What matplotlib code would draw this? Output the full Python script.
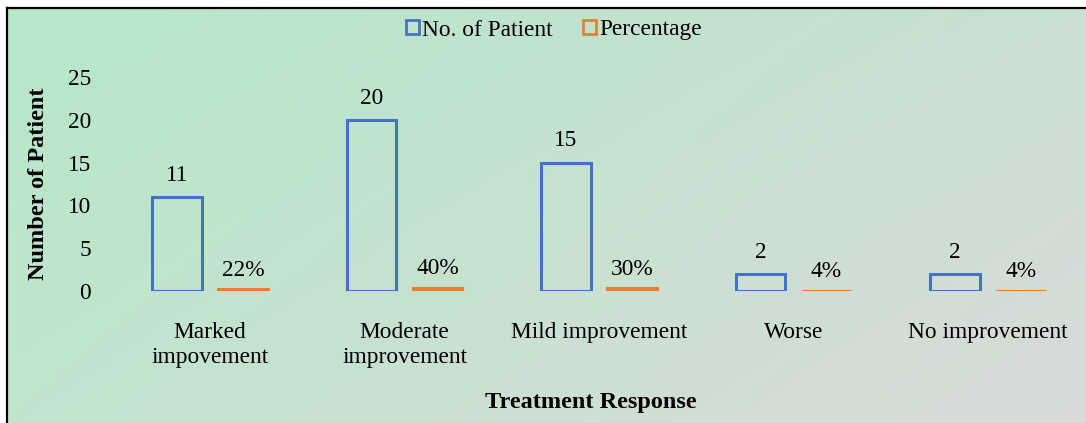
import numpy as np
import matplotlib
matplotlib.use("Agg")
import matplotlib.pyplot as plt
from matplotlib.patches import Patch
from matplotlib.lines import Line2D

# data
categories = ["Marked\nimpovement", "Moderate\nimprovement", "Mild improvement", "Worse", "No improvement"]
patients = [11, 20, 15, 2, 2]
percentage = [0.22, 0.40, 0.30, 0.04, 0.04]

blue = "#4472C4"
orange = "#ED7D31"
fs = 16.8

plt.rcParams["font.family"] = ["Liberation Serif", "DejaVu Serif"]

fig = plt.figure(figsize=(10.86, 4.23), dpi=100)
fig.patch.set_facecolor("white")

# background gradient (green top-left -> grey bottom-right)
bg = fig.add_axes([8 / 1086, 0, 1 - 8 / 1086, 1 - 9 / 423], zorder=-5)
tl = np.array([181, 232, 200]) / 255
tr = np.array([202, 223, 210]) / 255
bl = np.array([194, 228, 205]) / 255
br = np.array([217, 219, 217]) / 255
u = np.linspace(0, 1, 200)[None, :, None]
v = np.linspace(0, 1, 100)[:, None, None]
grad = (1 - v) * ((1 - u) * tl + u * tr) + v * ((1 - u) * bl + u * br)
bg.imshow(grad, aspect="auto", extent=[0, 1, 0, 1])
bg.axis("off")

# black frame on the left and top
fig.add_artist(Line2D([7 / 1086, 7 / 1086], [0, 1 - 8 / 423], color="black", lw=1.6))
fig.add_artist(Line2D([7 / 1086, 1], [1 - 8 / 423, 1 - 8 / 423], color="black", lw=1.6))

ax = fig.add_axes([113 / 1086, 132 / 423, 972 / 1086, 214 / 423])
ax.patch.set_alpha(0)
x = np.arange(len(categories))
w = 0.255
off = 0.17
ax.bar(x - off, patients, w, facecolor="none", edgecolor=blue, linewidth=2.2)
ax.bar(x + off, percentage, w, facecolor="none", edgecolor=orange, linewidth=2.2)

for xi, val in zip(x, patients):
    ax.annotate(str(val), (xi - off, val), xytext=(0, 8), textcoords="offset points",
                ha="center", va="bottom", fontsize=fs)
for xi, val in zip(x, percentage):
    ax.annotate("{:.0f}%".format(val * 100), (xi + off, val), xytext=(0, 6), textcoords="offset points",
                ha="center", va="bottom", fontsize=fs)

ax.set_xlim(-0.5, 4.5)
ax.set_ylim(0, 25)
ax.set_yticks([0, 5, 10, 15, 20, 25])
ax.set_xticks(x)
ax.set_xticklabels(categories, fontsize=fs, linespacing=1.3)
ax.tick_params(axis="both", length=0, labelsize=fs)
ax.tick_params(axis="y", pad=16)
ax.tick_params(axis="x", pad=22)
for s in ax.spines.values():
    s.set_visible(False)

ax.set_ylabel("Number of Patient", fontsize=17.5, fontweight="bold", labelpad=13)
ax.set_xlabel("Treatment Response", fontsize=17.5, fontweight="bold")
ax.xaxis.set_label_coords(0.492, -0.472)

handles = [Patch(facecolor="none", edgecolor=blue, linewidth=2),
           Patch(facecolor="none", edgecolor=orange, linewidth=2)]
fig.legend(handles, ["No. of Patient", "Percentage"], loc="center", bbox_to_anchor=(0.51, 1 - 30 / 423),
           ncol=2, frameon=False, fontsize=fs, handlelength=0.55, handleheight=0.55,
           handletextpad=0.15, columnspacing=1.3)

fig.savefig("out.png", dpi=100)
